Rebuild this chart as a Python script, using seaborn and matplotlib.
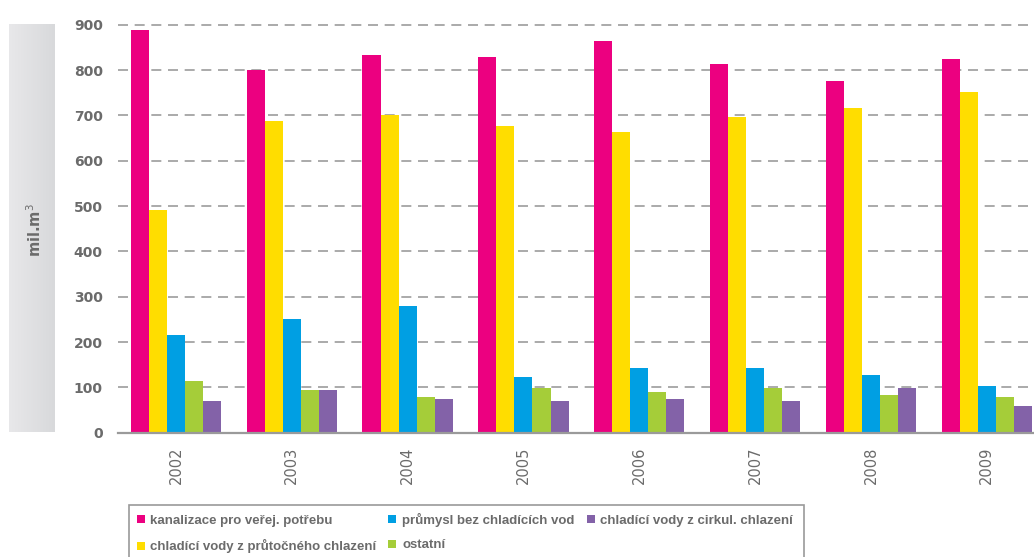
import numpy as np
import pandas as pd
import matplotlib
matplotlib.use("Agg")
import matplotlib.pyplot as plt
from matplotlib.lines import Line2D
from matplotlib.patches import Rectangle
import seaborn as sns

years = ["2002", "2003", "2004", "2005", "2006", "2007", "2008", "2009"]
series = ["kanalizace pro veřej. potřebu",
          "chladící vody z průtočného chlazení",
          "průmysl bez chladících vod",
          "ostatní",
          "chladící vody z cirkul. chlazení"]
kanalizace = [888, 799, 833, 828, 863, 814, 775, 824]
pruttocne = [491, 687, 700, 677, 663, 696, 716, 751]
prumysl = [216, 251, 279, 123, 143, 143, 127, 103]
ostatni = [114, 94, 79, 99, 90, 99, 83, 79]
cirkul = [70, 95, 74, 70, 74, 70, 99, 59]
colors = ["#EC0080", "#FFDD00", "#009FE3", "#A5CD39", "#8362A8"]
yticks = [0, 100, 200, 300, 400, 500, 600, 700, 800, 900]

values = [kanalizace, pruttocne, prumysl, ostatni, cirkul]
df = pd.DataFrame({
    "rok": years * len(series),
    "serie": [s for s in series for _ in years],
    "hodnota": [v for vals in values for v in vals],
})

sns.set_theme(style="white")
plt.rcParams["font.family"] = ["DejaVu Sans"]

W, H = 1034, 557
fig = plt.figure(figsize=(W / 100, H / 100), dpi=100)

# main axes in pixel geometry
ax_left, ax_right = 118, 1034
y0_px, y900_px = 432.7, 24.7
ymax = 905
top_px = y0_px - (y0_px - y900_px) * ymax / 900
ax = fig.add_axes([ax_left / W, (H - y0_px) / H, (ax_right - ax_left) / W, (y0_px - top_px) / H])

sns.barplot(data=df, x="rok", y="hodnota", hue="serie", hue_order=series,
            palette=colors, width=0.78, linewidth=0, saturation=1,
            legend=False, ax=ax)

ax.set_xlim(-0.5, 7.407)
ax.set_ylim(0, ymax)
ax.set_yticks(yticks)
ax.set_axisbelow(True)
ax.yaxis.grid(True, color="#9c9c9c", linewidth=1.2, linestyle=(0, (6, 4)))
ax.xaxis.grid(False)
for s in ["left", "right", "top"]:
    ax.spines[s].set_visible(False)
ax.spines["bottom"].set_color("#9a9a9a")
ax.spines["bottom"].set_linewidth(1.6)
ax.set_xlabel("")
ax.set_ylabel("")
ax.tick_params(axis="y", length=0, pad=11, labelsize=10, labelcolor="#6b6b6b")
ax.tick_params(axis="x", length=0, pad=10, labelsize=10.5, labelcolor="#6b6b6b")
for lbl in ax.get_yticklabels():
    lbl.set_fontweight("bold")
for lbl in ax.get_xticklabels():
    lbl.set_rotation(90)

# grey gradient box behind the unit label
bx = fig.add_axes([9 / W, (H - 432) / H, 46 / W, 408 / H])
grad = np.linspace(0, 1, 100).reshape(1, -1)
bx.imshow(grad, aspect="auto", cmap=matplotlib.colors.LinearSegmentedColormap.from_list(
    "g", ["#E8E8EA", "#D8D9DB"]), extent=[0, 1, 0, 1])
bx.set_axis_off()
fig.text(35 / W, 1 - 230 / H, "mil.m$^3$", rotation=90, ha="center", va="center",
         fontsize=10.5, fontweight="bold", color="#6b6b6b")

# legend without frame, frame drawn separately so it runs off the bottom edge
handles = [Line2D([], [], marker="s", linestyle="none", markersize=5.5,
                  markerfacecolor=c, markeredgewidth=0) for c in colors]
leg = fig.legend(handles, series, ncol=3, frameon=False, loc="upper left",
                 bbox_to_anchor=(134 / W, 1 - 510 / H), handlelength=0.6,
                 handletextpad=0.45, columnspacing=0.9, labelspacing=0.95,
                 borderaxespad=0, borderpad=0.2,
                 prop={"family": ["Liberation Sans", "DejaVu Sans"],
                       "weight": "bold", "size": 9.5})
for t in leg.get_texts():
    t.set_color("#6b6b6b")

fig.canvas.draw()
bb = leg.get_window_extent()
right_px = bb.x1 + 8
fig.patches.append(Rectangle((129 / W, -0.05), (right_px - 129) / W, (H - 505) / H + 0.05,
                             transform=fig.transFigure, facecolor="none",
                             edgecolor="#9a9a9a", linewidth=1.2, zorder=0))

fig.savefig("out.png", dpi=100, facecolor="white")
